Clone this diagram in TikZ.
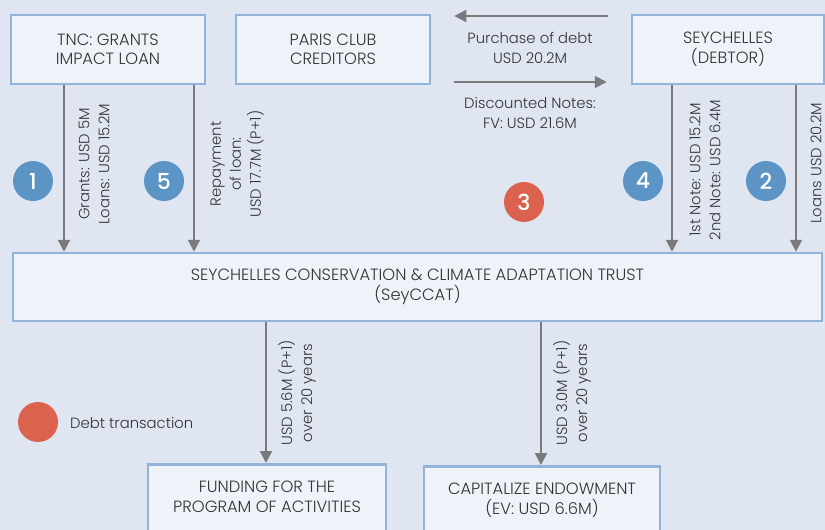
\documentclass[tikz,border=0pt]{standalone}
\usepackage{fontspec}
\setmainfont{Poppins}[UprightFont=* Light, BoldFont=* Medium]
\usetikzlibrary{arrows.meta,calc}
\definecolor{bg}{HTML}{DFE6F1}
\definecolor{boxfill}{HTML}{EEF3F9}
\definecolor{boxline}{HTML}{91B5DA}
\definecolor{arrowgrey}{HTML}{7A7A7A}
\definecolor{txt}{HTML}{333333}
\definecolor{numblue}{HTML}{5B94C5}
\definecolor{numred}{HTML}{DC6250}
\begin{document}
\begin{tikzpicture}[x=1pt,y=-1pt,
  font=\fontsize{14.8}{20}\selectfont, text=txt,
  boxfont/.style={font=\fontsize{16.3}{19.5}\selectfont},
  box/.style={draw=boxline, line width=2.5pt, fill=boxfill, align=center, inner sep=0pt, boxfont},
  arr/.style={draw=arrowgrey, line width=2pt, -{Triangle[length=12pt,width=12pt]}},
  lbl/.style={align=center, rotate=90, inner sep=0pt},
  num/.style={circle, fill=numblue, minimum size=40pt, inner sep=0pt, text=white, font=\fontsize{22}{22}\selectfont\bfseries},
  rednum/.style={num, fill=numred}
]
\clip (0,0) rectangle (825,530);
\fill[bg] (0,0) rectangle (825,530);

\node[box, minimum width=194pt, minimum height=69pt] (tnc) at (108,49.5) {TNC: GRANTS\\IMPACT LOAN};
\node[box, minimum width=194pt, minimum height=69pt] (paris) at (333,49.5) {PARIS CLUB\\CREDITORS};
\node[box, minimum width=192pt, minimum height=69pt] (sey) at (728,49.5) {SEYCHELLES\\(DEBTOR)};
\node[box, minimum width=809pt, minimum height=68pt] (trust) at (417.5,287) {SEYCHELLES CONSERVATION \& CLIMATE ADAPTATION TRUST\\(SeyCCAT)};
\node[box, minimum width=238pt, minimum height=80pt, anchor=north] (fund) at (267,463) {};
\node[align=center, boxfont] (fundtxt) at (267,497) {FUNDING FOR THE\\PROGRAM OF ACTIVITIES};
\node[box, minimum width=236pt, minimum height=80pt, anchor=north] (endow) at (542,465) {};
\node[align=center, boxfont] (endowtxt) at (542,500) {CAPITALIZE ENDOWMENT\\(EV: USD 6.6M)};

% vertical arrows
\draw[arr] (tnc.south -| 64,0) -- (trust.north -| 64,0);
\draw[arr] (tnc.south -| 194,0) -- (trust.north -| 194,0);
\draw[arr] (sey.south -| 672,0) -- (trust.north -| 672,0);
\draw[arr] (sey.south -| 796,0) -- (trust.north -| 796,0);
\draw[arr] (trust.south -| 266,0) -- (fund.north -| 266,0);
\draw[arr] (trust.south -| 541,0) -- (endow.north -| 541,0);

% horizontal arrows
\coordinate (h1s) at ($(sey.west |- 0,16)+(-23,0)$);
\coordinate (h1e) at ($(paris.east |- 0,16)+(23,0)$);
\coordinate (h2s) at ($(paris.east |- 0,82)+(23,0)$);
\coordinate (h2e) at ($(sey.west |- 0,82)+(-24,0)$);
\draw[arr] (h1s) -- (h1e);
\draw[arr] (h2s) -- (h2e);
\node[align=center] (purch) at (530,48) {Purchase of debt\\USD 20.2M};
\node[align=center] (disc) at (530,113) {Discounted Notes:\\FV: USD 21.6M};

% rotated labels
\node[lbl] (l1) at (94,164) {Grants: USD 5M\\Loans: USD 15.2M};
\node[lbl] (l5) at (237,164) {Repayment\\of loan:\\USD 17.7M (P+1)};
\node[lbl] (l4) at (705,170) {1st Note: USD 15.2M\\2nd Note: USD 6.4M};
\node[lbl] (l2) at (816,163) {Loans USD 20.2M};
\node[lbl] (l6) at (297,393) {USD 5.6M (P+1)\\over 20 years};
\node[lbl] (l7) at (572,393) {USD 3.0M (P+1)\\over 20 years};

% numbers
\node[num] (n1) at (33,181) {1};
\node[num] (n5) at (164,181) {5};
\node[num] (n4) at (643,181) {4};
\node[num] (n2) at (766,181) {2};
\node[rednum] (n3) at (524,202) {3};

% legend
\node[rednum] (leg) at (38,422) {};
\node[anchor=west, inner sep=0pt] (legtxt) at (70,423) {Debt transaction};
\end{tikzpicture}
\end{document}
